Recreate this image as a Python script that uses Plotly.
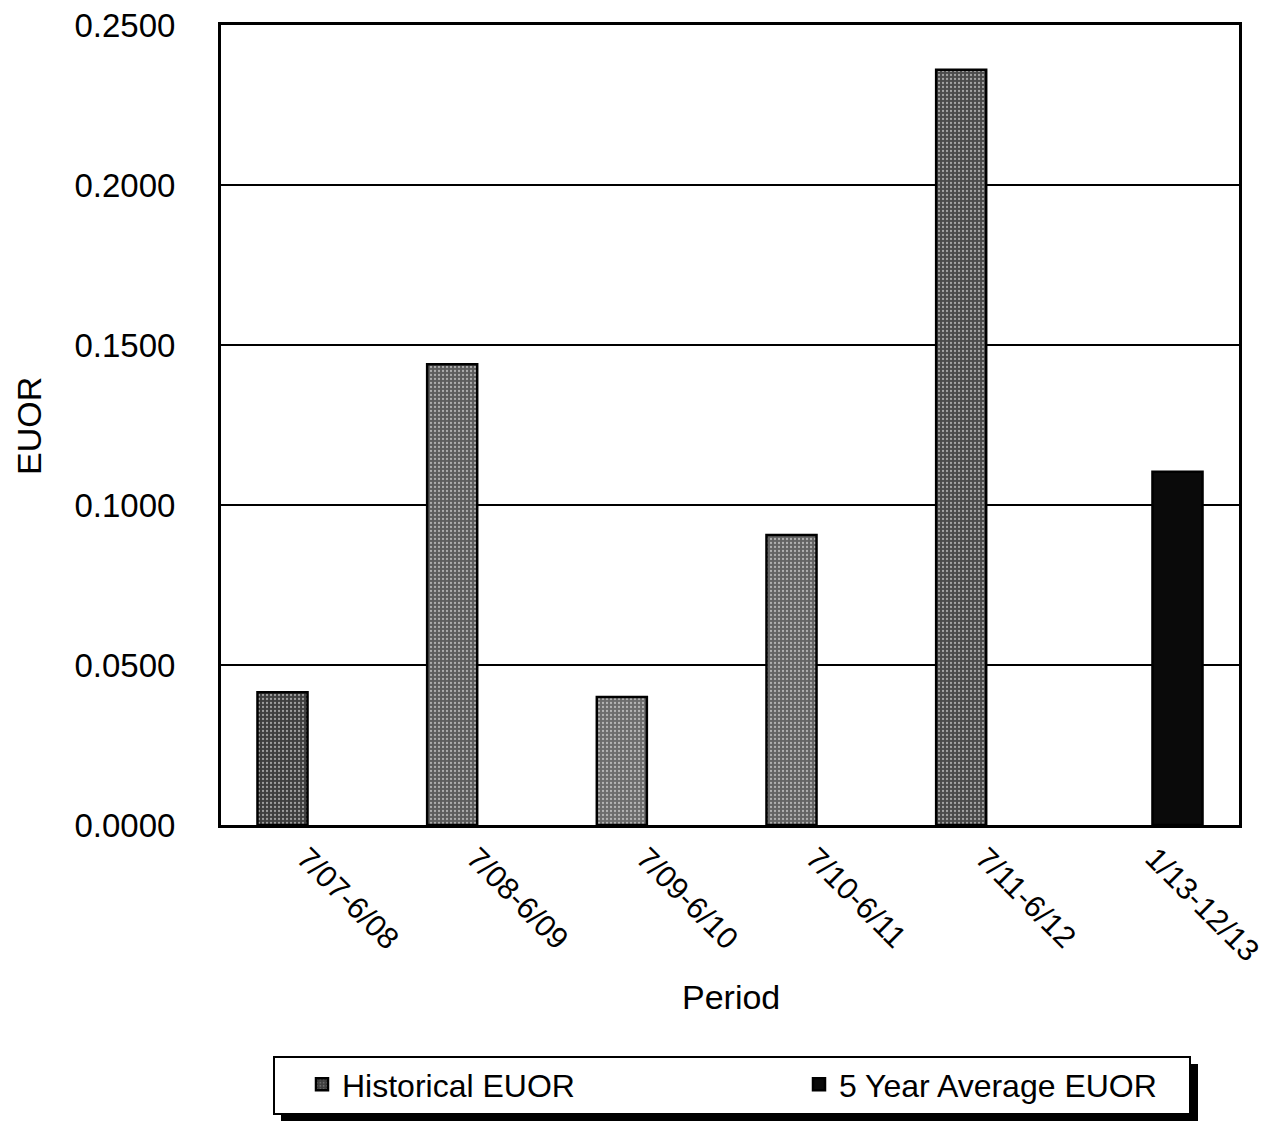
import plotly.graph_objects as go

# Periods on the category axis
periods = ["7/07-6/08", "7/08-6/09", "7/09-6/10", "7/10-6/11", "7/11-6/12", "1/13-12/13"]

# Historical EUOR per 12-month period
hist_periods = periods[:5]
hist_euor = [0.0415, 0.1440, 0.0400, 0.0906, 0.2360]

# Five-year average EUOR
avg_periods = periods[5:]
avg_euor = [0.1104]

y_ticks = [0.0, 0.05, 0.10, 0.15, 0.20, 0.25]

FONT = "Liberation Sans, Arial, Helvetica, sans-serif"

# plot area in pixels (used to place annotations / legend box in paper coords)
L, R, T, B = 221, 1239, 25, 825
W, H = R - L, B - T


def px_x(p):
    return (p - L) / W


def px_y(p):
    return (B - p) / H


BAR_W = 0.295  # bar width in category units
hist_colors = ["#3e3e3e", "#5c5c5c", "#6c6c6c", "#636363", "#4a4a4a"]

fig = go.Figure()
fig.add_trace(go.Bar(
    x=hist_periods, y=hist_euor, name="Historical EUOR",
    width=BAR_W, offset=-0.285,
    marker=dict(color=hist_colors, line=dict(color="black", width=2.5),
                pattern=dict(shape=".", fgcolor="#9c9c9c", size=4, solidity=0.25)),
))
fig.add_trace(go.Bar(
    x=avg_periods, y=avg_euor, name="5 Year Average EUOR",
    width=BAR_W, offset=-0.01,
    marker=dict(color="#0a0a0a", line=dict(color="black", width=2.5)),
))

fig.update_layout(
    width=1278, height=1121,
    margin=dict(l=L, r=1278 - R, t=T, b=1121 - B, autoexpand=False),
    paper_bgcolor="white", plot_bgcolor="white",
    barmode="overlay",
    font=dict(family=FONT, color="black"),
    showlegend=True,
    legend=dict(
        orientation="h", x=px_x(302), y=px_y(1057), xanchor="left", yanchor="top",
        bgcolor="rgba(0,0,0,0)", borderwidth=0,
        font=dict(size=32, family=FONT, color="black"),
        entrywidth=452, entrywidthmode="pixels", itemwidth=30,
    ),
)

fig.update_xaxes(
    categoryorder="array", categoryarray=periods,
    tickangle=45, tickfont=dict(size=30.5, family=FONT),
    showline=True, linecolor="black", linewidth=3, mirror=True,
    ticks="", showgrid=False,
)
fig.update_yaxes(
    range=[0, 0.25], tickvals=y_ticks, tickformat=".4f",
    tickfont=dict(size=33, family=FONT), ticklabelstandoff=36,
    showline=True, linecolor="black", linewidth=3, mirror=True,
    showgrid=True, gridcolor="black", gridwidth=2,
    zeroline=False, ticks="",
)

# axis titles
fig.add_annotation(text="EUOR", textangle=-90, x=px_x(29), y=px_y(426),
                   xref="paper", yref="paper", xanchor="center", yanchor="middle",
                   showarrow=False, font=dict(size=34, family=FONT))
fig.add_annotation(text="Period", x=px_x(731), y=px_y(997),
                   xref="paper", yref="paper", xanchor="center", yanchor="middle",
                   showarrow=False, font=dict(size=34, family=FONT))

# legend frame with a drop shadow
fig.add_shape(type="rect", xref="paper", yref="paper",
              x0=px_x(281), x1=px_x(1198), y0=px_y(1121), y1=px_y(1064),
              fillcolor="black", line=dict(width=0), layer="above")
fig.add_shape(type="rect", xref="paper", yref="paper",
              x0=px_x(274), x1=px_x(1190), y0=px_y(1114), y1=px_y(1057),
              fillcolor="white", line=dict(color="black", width=2), layer="above")

fig.write_html("out.html")
